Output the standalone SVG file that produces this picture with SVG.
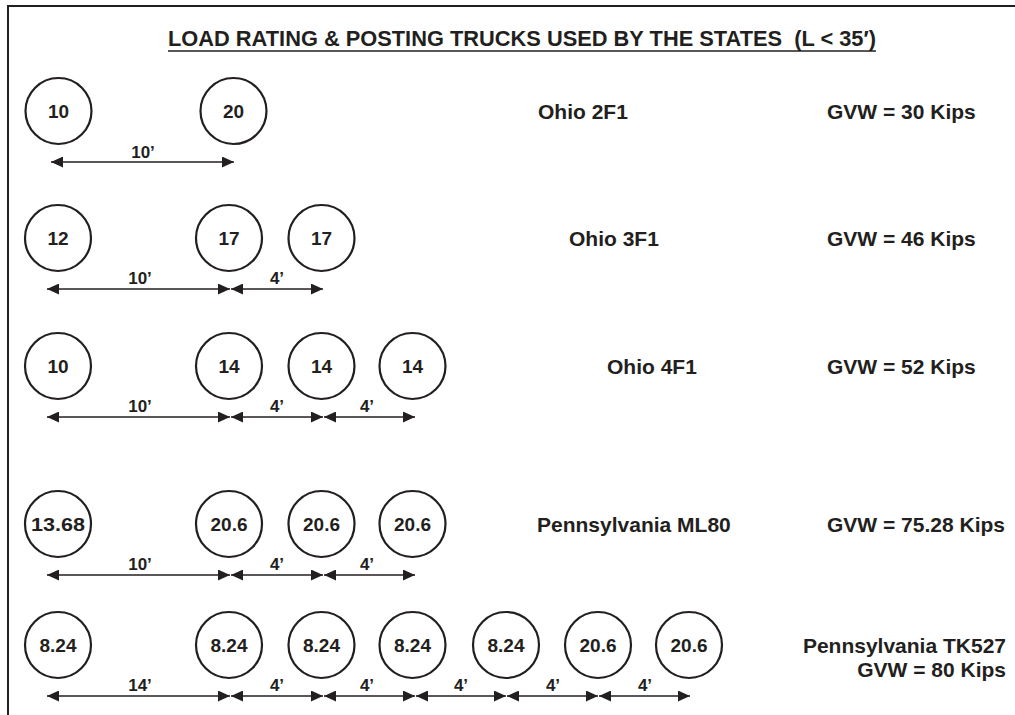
<svg xmlns="http://www.w3.org/2000/svg" width="1015" height="715" viewBox="0 0 1015 715">
  <defs>
    <marker id="ah" viewBox="0 0 12 11" refX="12" refY="5.5" markerWidth="12" markerHeight="11" markerUnits="userSpaceOnUse" orient="auto-start-reverse">
      <path d="M0,0 L12,5.5 L0,11 Z" fill="#231f20"/>
    </marker>
  </defs>
  <style>
    text { font-family: "Liberation Sans", Arial, sans-serif; font-weight: bold; fill: #231f20; }
    .axle circle { fill: #fff; stroke: #231f20; stroke-width: 2.2; }
    .axle text { font-size: 19px; text-anchor: middle; }
    .dim line { stroke: #231f20; stroke-width: 1.5; marker-start: url(#ah); marker-end: url(#ah); }
    .dim text { font-size: 17px; text-anchor: middle; }
    .name { font-size: 21px; }
    .frame { fill: none; stroke: #231f20; stroke-width: 2; }
  </style>
  <rect width="1015" height="715" fill="#fff"/>

  <!-- frame: top and left edges -->
  <path class="frame" d="M8,715 V6 H1015"/>

  <!-- title -->
  <g id="title">
    <text x="522" y="46" font-size="22" text-anchor="middle" textLength="708" lengthAdjust="spacingAndGlyphs" xml:space="preserve">LOAD RATING &amp; POSTING TRUCKS USED BY THE STATES  (L &lt; 35′)</text>
    <line x1="168" y1="51" x2="876" y2="51" stroke="#231f20" stroke-width="1.6"/>
  </g>

  <!-- Ohio 2F1 -->
  <g id="ohio2f1">
    <g class="axle"><circle cx="58.5" cy="111" r="33"/><text x="58.5" y="118">10</text></g>
    <g class="axle"><circle cx="233.5" cy="111" r="33"/><text x="233.5" y="118">20</text></g>
    <text class="name" x="538" y="119">Ohio 2F1</text>
    <text class="name" x="827" y="119">GVW = 30 Kips</text>
  </g>

  <!-- Ohio 3F1 -->
  <g id="ohio3f1">
    <g class="axle"><circle cx="58" cy="238" r="33"/><text x="58" y="245">12</text></g>
    <g class="axle"><circle cx="229" cy="238" r="33"/><text x="229" y="245">17</text></g>
    <g class="axle"><circle cx="321.5" cy="238" r="33"/><text x="321.5" y="245">17</text></g>
    <text class="name" x="569" y="246">Ohio 3F1</text>
    <text class="name" x="827" y="246">GVW = 46 Kips</text>
  </g>

  <!-- Ohio 4F1 -->
  <g id="ohio4f1">
    <g class="axle"><circle cx="58" cy="366" r="33"/><text x="58" y="373">10</text></g>
    <g class="axle"><circle cx="229" cy="366" r="33"/><text x="229" y="373">14</text></g>
    <g class="axle"><circle cx="321.5" cy="366" r="33"/><text x="321.5" y="373">14</text></g>
    <g class="axle"><circle cx="412.5" cy="366" r="33"/><text x="412.5" y="373">14</text></g>
    <text class="name" x="607" y="374">Ohio 4F1</text>
    <text class="name" x="827" y="374">GVW = 52 Kips</text>
  </g>

  <!-- Pennsylvania ML80 -->
  <g id="paml80">
    <g class="axle"><circle cx="58" cy="524" r="33"/><text x="58" y="531" textLength="54" lengthAdjust="spacingAndGlyphs">13.68</text></g>
    <g class="axle"><circle cx="229" cy="524" r="33"/><text x="229" y="531">20.6</text></g>
    <g class="axle"><circle cx="321.5" cy="524" r="33"/><text x="321.5" y="531">20.6</text></g>
    <g class="axle"><circle cx="412.5" cy="524" r="33"/><text x="412.5" y="531">20.6</text></g>
    <text class="name" x="537" y="532">Pennsylvania ML80</text>
    <text class="name" x="827" y="532">GVW = 75.28 Kips</text>
  </g>

  <!-- Pennsylvania TK527 -->
  <g id="patk527">
    <g class="axle"><circle cx="58" cy="645" r="33"/><text x="58" y="652">8.24</text></g>
    <g class="axle"><circle cx="229" cy="645" r="33"/><text x="229" y="652">8.24</text></g>
    <g class="axle"><circle cx="321.5" cy="645" r="33"/><text x="321.5" y="652">8.24</text></g>
    <g class="axle"><circle cx="412.5" cy="645" r="33"/><text x="412.5" y="652">8.24</text></g>
    <g class="axle"><circle cx="506" cy="645" r="33"/><text x="506" y="652">8.24</text></g>
    <g class="axle"><circle cx="598" cy="645" r="33"/><text x="598" y="652">20.6</text></g>
    <g class="axle"><circle cx="689" cy="645" r="33"/><text x="689" y="652">20.6</text></g>
    <text class="name" x="1006" y="653" text-anchor="end">Pennsylvania TK527</text>
    <text class="name" x="1006" y="677" text-anchor="end">GVW = 80 Kips</text>
  </g>

  <!-- axle spacing dimensions -->
  <g id="dimensions" class="dim">
    <line x1="51" y1="162" x2="234" y2="162"/><text x="143" y="158">10’</text>

    <line x1="47" y1="289" x2="230" y2="289"/><text x="140" y="284">10’</text>
    <line x1="231" y1="289" x2="323" y2="289"/><text x="277" y="284">4’</text>

    <line x1="47" y1="417" x2="230" y2="417"/><text x="140" y="412">10’</text>
    <line x1="231" y1="417" x2="323" y2="417"/><text x="277" y="412">4’</text>
    <line x1="324" y1="417" x2="415" y2="417"/><text x="367" y="412">4’</text>

    <line x1="47" y1="575" x2="230" y2="575"/><text x="140" y="570">10’</text>
    <line x1="231" y1="575" x2="323" y2="575"/><text x="277" y="570">4’</text>
    <line x1="324" y1="575" x2="415" y2="575"/><text x="367" y="570">4’</text>

    <line x1="47" y1="696" x2="230" y2="696"/><text x="140" y="691">14’</text>
    <line x1="231" y1="696" x2="323" y2="696"/><text x="277" y="691">4’</text>
    <line x1="324" y1="696" x2="415" y2="696"/><text x="367" y="691">4’</text>
    <line x1="416" y1="696" x2="506" y2="696"/><text x="461" y="691">4’</text>
    <line x1="507" y1="696" x2="598" y2="696"/><text x="553" y="691">4’</text>
    <line x1="599" y1="696" x2="690" y2="696"/><text x="645" y="691">4’</text>
  </g>
</svg>
